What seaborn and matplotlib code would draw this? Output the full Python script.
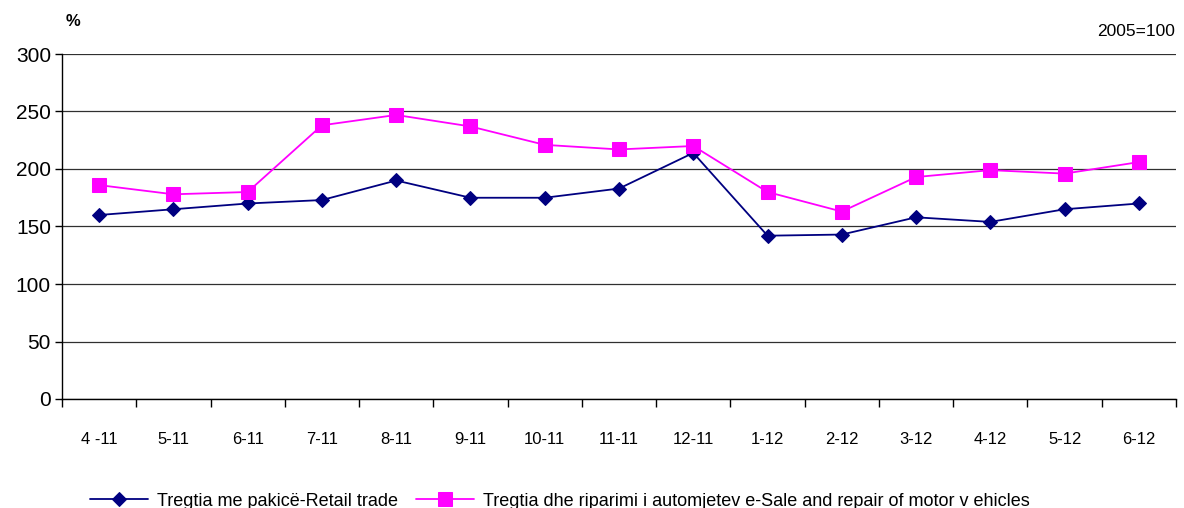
import pandas as pd
import matplotlib.pyplot as plt
import seaborn as sns
from matplotlib.ticker import FixedLocator

# data
months = ["4 -11", "5-11", "6-11", "7-11", "8-11", "9-11", "10-11", "11-11",
          "12-11", "1-12", "2-12", "3-12", "4-12", "5-12", "6-12"]
retail = [160, 165, 170, 173, 190, 175, 175, 183, 214, 142, 143, 158, 154, 165, 170]
motor = [186, 178, 180, 238, 247, 237, 221, 217, 220, 180, 163, 193, 199, 196, 206]

label_retail = "Tregtia me pakicë-Retail trade"
label_motor = "Tregtia dhe riparimi i automjetev e-Sale and repair of motor v ehicles"

sns.set_theme(style="white")
plt.rcParams['font.family'] = ['Liberation Sans', 'DejaVu Sans']
plt.rcParams['text.color'] = 'black'
plt.rcParams['xtick.color'] = 'black'
plt.rcParams['ytick.color'] = 'black'

df = pd.DataFrame({"month": months, "retail": retail, "motor": motor})
df["pos"] = range(len(months))

fig = plt.figure(figsize=(11.84, 5.08), dpi=100)
ax = fig.add_axes([62 / 1184, 1 - 399 / 508, (1176 - 62) / 1184, (399 - 54) / 508])

sns.lineplot(data=df, x="pos", y="retail", ax=ax, color="#000080", linewidth=1.3,
             marker="D", markersize=7, markeredgecolor="#000080", label=label_retail)
sns.lineplot(data=df, x="pos", y="motor", ax=ax, color="#FF00FF", linewidth=1.3,
             marker="s", markersize=10, markeredgecolor="#FF00FF", label=label_motor)

ax.set_ylim(0, 300)
ax.set_xlim(-0.5, len(months) - 0.5)
ax.set_yticks(range(0, 301, 50))
ax.set_yticklabels([str(v) for v in range(0, 301, 50)], fontsize=15)
ax.set_xticks(df["pos"])
ax.set_xticklabels(months, fontsize=12)
ax.xaxis.set_minor_locator(FixedLocator([i - 0.5 for i in range(len(months) + 1)]))
ax.tick_params(axis="x", which="major", bottom=True, length=0, pad=24)
ax.tick_params(axis="x", which="minor", bottom=True, length=6, width=1, color="black", direction="out")
ax.tick_params(axis="y", left=True, length=5, width=1, color="black", direction="out", pad=3)
ax.grid(axis="y", color="#303030", linewidth=0.9)
ax.set_axisbelow(True)

for s in ["top", "right"]:
    ax.spines[s].set_visible(False)
for s in ["left", "bottom"]:
    ax.spines[s].set_color("black")
    ax.spines[s].set_linewidth(1)

ax.set_xlabel("")
ax.set_ylabel("")

fig.text(66 / 1184, 1 - 22 / 508, "%", fontsize=12, fontweight="bold", va="center")
fig.text(1175 / 1184, 1 - 32 / 508, "2005=100", fontsize=12.5, ha="right", va="center")

ax.legend(loc="center", bbox_to_anchor=(560 / 1184, 1 - 501 / 508),
          bbox_transform=fig.transFigure, ncol=2, frameon=False, fontsize=13,
          handlelength=3.2, columnspacing=1.0, handletextpad=0.5)

fig.savefig("out.png", dpi=100)
